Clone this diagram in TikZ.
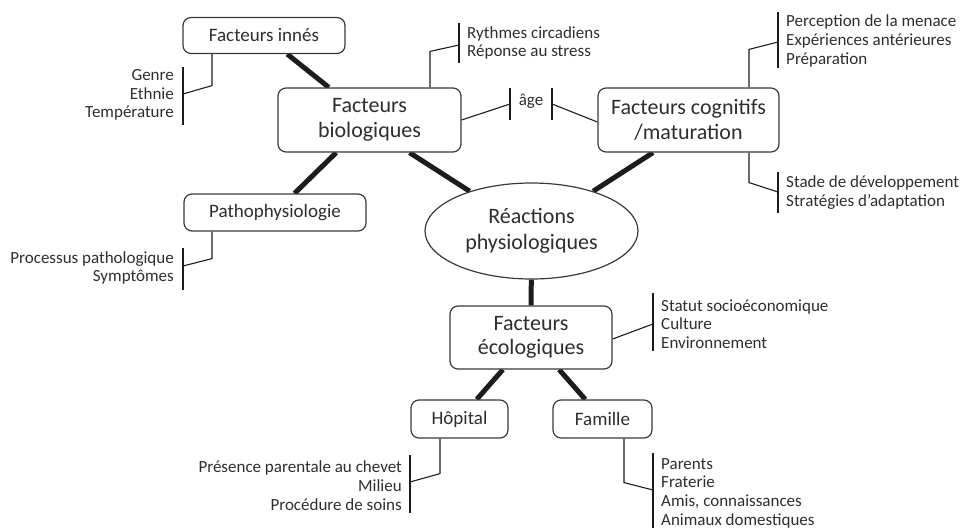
\documentclass[tikz,border=0pt]{standalone}
\usepackage{fontspec}
\setmainfont{Carlito}
\usetikzlibrary{shapes.geometric}
\definecolor{ink}{HTML}{2E2E2E}
\definecolor{edge}{HTML}{1C1C1C}
\definecolor{boxline}{HTML}{3A3A3A}
\pgfdeclarelayer{bg}
\pgfsetlayers{bg,main}
\begin{document}
\begin{tikzpicture}[x=1pt,y=-1pt,
  box/.style={draw=boxline, line width=1.2pt, rounded corners=8pt, fill=white,
    text=ink, align=center, inner sep=0pt},
  smallbox/.style={box, font=\fontsize{19}{22}\selectfont},
  bigbox/.style={box, font=\fontsize{22}{24.5}\selectfont},
  lst/.style={text=ink, font=\fontsize{17}{18.7}\selectfont, inner sep=0pt},
  bar/.style={draw=edge, line width=2pt},
  thin/.style={draw=edge, line width=1.1pt},
  thick/.style={draw=edge, line width=5pt}]
\useasboundingbox (0,0) rectangle (963,527);
\clip (0,0) rectangle (963,527);

% main boxes
\node[smallbox, minimum width=162pt, minimum height=36pt] (inn) at (264,35.5) {Facteurs innés};
\node[bigbox, minimum width=183pt, minimum height=64pt] (bio) at (369.5,120) {Facteurs\\biologiques};
\node[smallbox, minimum width=182pt, minimum height=37pt] (path) at (275,212.5) {Pathophysiologie};
\node[bigbox, minimum width=181pt, minimum height=64pt] (cog) at (688.5,120) {Facteurs cognitifs\\/maturation};
\node[ellipse, draw=boxline, line width=1.2pt, fill=white, text=ink, align=center, inner sep=0pt,
  font=\fontsize{22}{26}\selectfont, minimum width=213pt, minimum height=96pt] (reac) at (531.5,231) {Réactions\\physiologiques};
\node[bigbox, minimum width=162pt, minimum height=63pt] (eco) at (531,337.5) {Facteurs\\écologiques};
\node[smallbox, minimum width=97pt, minimum height=38pt] (hop) at (459.5,419) {Hôpital};
\node[smallbox, minimum width=99pt, minimum height=38pt] (fam) at (602.5,419) {Famille};

% lists
\node[lst, align=right, anchor=east] (linn) at (174,95) {Genre\\Ethnie\\Température};
\node[lst, align=left, anchor=west] (lbio) at (467,43) {Rythmes circadiens\\Réponse au stress};
\node[lst] (lage) at (531,101) {âge};
\node[lst, align=left, anchor=west] (lcogt) at (786,41) {Perception de la menace\\Expériences antérieures\\Préparation};
\node[lst, align=left, anchor=west] (lcogb) at (786,192.5) {Stade de développement\\Stratégies d’adaptation};
\node[lst, align=right, anchor=east] (lpath) at (174,268) {Processus pathologique\\Symptômes};
\node[lst, align=left, anchor=west] (leco) at (661,324) {Statut socioéconomique\\Culture\\Environnement};
\node[lst, align=right, anchor=east] (lhop) at (402,485.5) {Présence parentale au chevet\\Milieu\\Procédure de soins};
\node[lst, align=left, anchor=west] (lfam) at (661,493) {Parents\\Fraterie\\Amis, connaissances\\Animaux domestiques};

% bracket joints
\coordinate (jinn) at (183,94);
\coordinate (jbio) at (459,45);
\coordinate (jage1) at (510,104);
\coordinate (jage2) at (552,104);
\coordinate (jcogt) at (778,42);
\coordinate (jcogb) at (778,192);
\coordinate (jpath) at (183,266);
\coordinate (jeco) at (653,324);
\coordinate (jhop) at (410,482);
\coordinate (jfam) at (653,490);

% bracket bars
\draw[bar] (183,67) -- (183,125);
\draw[bar] (459,23) -- (459,63);
\draw[bar] (510,88) -- (510,120);
\draw[bar] (552,88) -- (552,120);
\draw[bar] (778,12) -- (778,68);
\draw[bar] (778,172) -- (778,213);
\draw[bar] (183,248) -- (183,290);
\draw[bar] (653,293) -- (653,351);
\draw[bar] (410,455) -- (410,513);
\draw[bar] (653,453) -- (653,540);

\begin{pgfonlayer}{bg}
  % thick links between the factors
  \draw[thick] (inn) -- (bio);
  \draw[thick] (bio) -- (path);
  \draw[thick] ([xshift=40pt]bio.south) -- (reac);
  \draw[thick] ([xshift=-35.5pt]cog.south) -- (reac);
  \draw[thick] (reac) -- (eco);
  \draw[thick] (eco) -- (hop);
  \draw[thick] (eco) -- (fam);
  % thin leads to the lists
  \draw[thin] ([xshift=-52pt]inn.south) -- ++(0,31.5) -- (jinn);
  \draw[thin] ([xshift=60.5pt]bio.north) -- ++(0,-36) -- (jbio);
  \draw[thin] (bio.east) -- (jage1);
  \draw[thin] (jage2) -- ([yshift=-2pt]cog.west);
  \draw[thin] ([xshift=60.5pt]cog.north) -- ++(0,-38) -- (jcogt);
  \draw[thin] ([xshift=60.5pt]cog.south) -- ++(0,30) -- (jcogb);
  \draw[thin] ([xshift=-63pt]path.south) -- ++(0,27) -- (jpath);
  \draw[thin] ([yshift=-1.5pt]eco.east) -- (jeco);
  \draw[thin] ([xshift=-19.5pt]hop.south) -- ++(0,35) -- (jhop);
  \draw[thin] ([xshift=21.5pt]fam.south) -- ++(0,44) -- (jfam);
\end{pgfonlayer}
\end{tikzpicture}
\end{document}
